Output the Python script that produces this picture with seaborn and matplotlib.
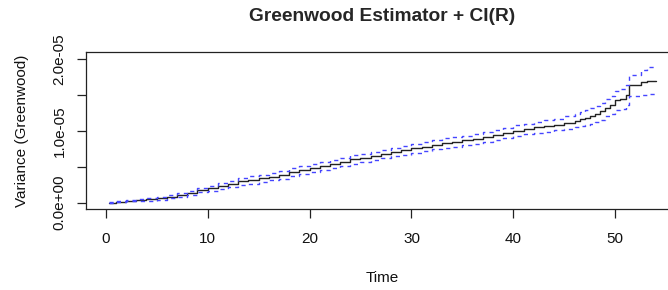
import numpy as np
import pandas as pd
import matplotlib
matplotlib.use("Agg")
import matplotlib.pyplot as plt
import seaborn as sns

# ---- data ----
time = [0.3, 1, 2, 3, 4, 5, 6, 7, 8, 9, 10, 11, 12, 13, 14, 15, 16, 17, 18, 19,
        20, 21, 22, 23, 24, 25, 26, 27, 28, 29, 30, 31, 32, 33, 34, 35, 36, 37,
        38, 39, 40, 41, 42, 43, 44, 45, 46, 46.5, 47, 47.5, 48, 48.5, 49, 49.5,
        50, 50.5, 51, 51.3, 52.5, 53.1, 54]
variance = [0.00, 0.15, 0.30, 0.35, 0.45, 0.60, 0.85, 1.10, 1.40, 1.75, 2.00,
            2.30, 2.65, 3.00, 3.15, 3.40, 3.60, 3.85, 4.25, 4.50, 4.85, 5.10,
            5.40, 5.70, 6.00, 6.25, 6.50, 6.80, 7.00, 7.25, 7.55, 7.80, 8.05,
            8.30, 8.45, 8.65, 8.85, 9.10, 9.35, 9.70, 10.00, 10.20, 10.45,
            10.65, 10.85, 11.10, 11.40, 11.60, 11.80, 12.00, 12.30, 12.70,
            13.20, 13.50, 14.20, 14.40, 14.90, 16.30, 16.70, 16.90, 16.90]
upper = [0.10, 0.25, 0.40, 0.45, 0.60, 0.78, 1.05, 1.35, 1.68, 2.05, 2.35,
         2.70, 3.08, 3.48, 3.65, 3.90, 4.10, 4.37, 4.78, 5.03, 5.38, 5.64,
         5.95, 6.25, 6.56, 6.82, 7.07, 7.38, 7.58, 7.84, 8.15, 8.42, 8.68,
         8.94, 9.10, 9.32, 9.53, 9.80, 10.06, 10.42, 10.74, 10.92, 11.20,
         11.43, 11.65, 12.00, 12.35, 12.60, 12.85, 13.10, 13.45, 13.88, 14.40,
         14.75, 15.50, 15.75, 16.30, 17.80, 18.40, 18.80, 18.90]
lower = [-0.05, 0.05, 0.20, 0.25, 0.30, 0.42, 0.65, 0.85, 1.12, 1.45, 1.65,
         1.90, 2.22, 2.52, 2.65, 2.90, 3.10, 3.33, 3.72, 3.97, 4.32, 4.56,
         4.85, 5.15, 5.44, 5.68, 5.93, 6.22, 6.42, 6.66, 6.95, 7.18, 7.42,
         7.66, 7.80, 7.98, 8.17, 8.40, 8.64, 8.98, 9.26, 9.48, 9.70, 9.87,
         10.05, 10.20, 10.45, 10.60, 10.75, 10.90, 11.15, 11.52, 12.00,
         12.25, 12.90, 13.05, 13.50, 14.80, 15.00, 15.10, 15.10]

scale = 1e-6
df = pd.DataFrame({
    "time": time,
    "var": np.array(variance) * scale,
    "upper": np.array(upper) * scale,
    "lower": np.array(lower) * scale,
})

sns.set_style("ticks")
plt.rcParams["font.family"] = ["Liberation Sans", "DejaVu Sans"]

fig = plt.figure(figsize=(6.68, 2.90), dpi=100)
W, H = 668, 290
left_px, right_px, top_px, bottom_px = 86, 678, 52, 209
ax = fig.add_axes([left_px / W, 1 - bottom_px / H,
                   (right_px - left_px) / W, (bottom_px - top_px) / H])

sns.lineplot(data=df, x="time", y="var", ax=ax, color="#222222",
             linewidth=1.0, drawstyle="steps-post", estimator=None)
sns.lineplot(data=df, x="time", y="upper", ax=ax, color="#4545ff",
             linewidth=1.0, drawstyle="steps-post", estimator=None,
             linestyle=(0, (3, 3)))
sns.lineplot(data=df, x="time", y="lower", ax=ax, color="#4545ff",
             linewidth=1.0, drawstyle="steps-post", estimator=None,
             linestyle=(0, (3, 3)))

ax.set_xlim(-1.93, 56.15)
ax.set_ylim(-0.875e-6, 2.093e-5)

ax.set_xticks([0, 10, 20, 30, 40, 50])
ax.set_xticklabels(["0", "10", "20", "30", "40", "50"])
ax.set_yticks([0, 5e-6, 1e-5, 1.5e-5, 2e-5])
ax.set_yticklabels(["0.0e+00", "", "1.0e-05", "", "2.0e-05"])

for s in ax.spines.values():
    s.set_visible(True)
    s.set_color("#222222")
    s.set_linewidth(0.9)

ax.tick_params(axis="both", length=6.5, width=0.9, color="#222222",
               labelsize=11, labelcolor="#111111")
ax.tick_params(axis="x", pad=10)
ax.tick_params(axis="y", pad=7.5)
for lab in ax.get_yticklabels():
    lab.set_rotation(90)
    lab.set_va("center")
    lab.set_ha("right")

ax.set_xlabel("Time", fontsize=11, color="#111111", labelpad=18)
ax.set_ylabel("Variance (Greenwood)", fontsize=11, color="#111111", labelpad=17)
ax.set_title("Greenwood Estimator + CI(R)", fontsize=13.8, fontweight="bold",
             pad=22.5)
ax.grid(False)

fig.savefig("out.png", dpi=100)
